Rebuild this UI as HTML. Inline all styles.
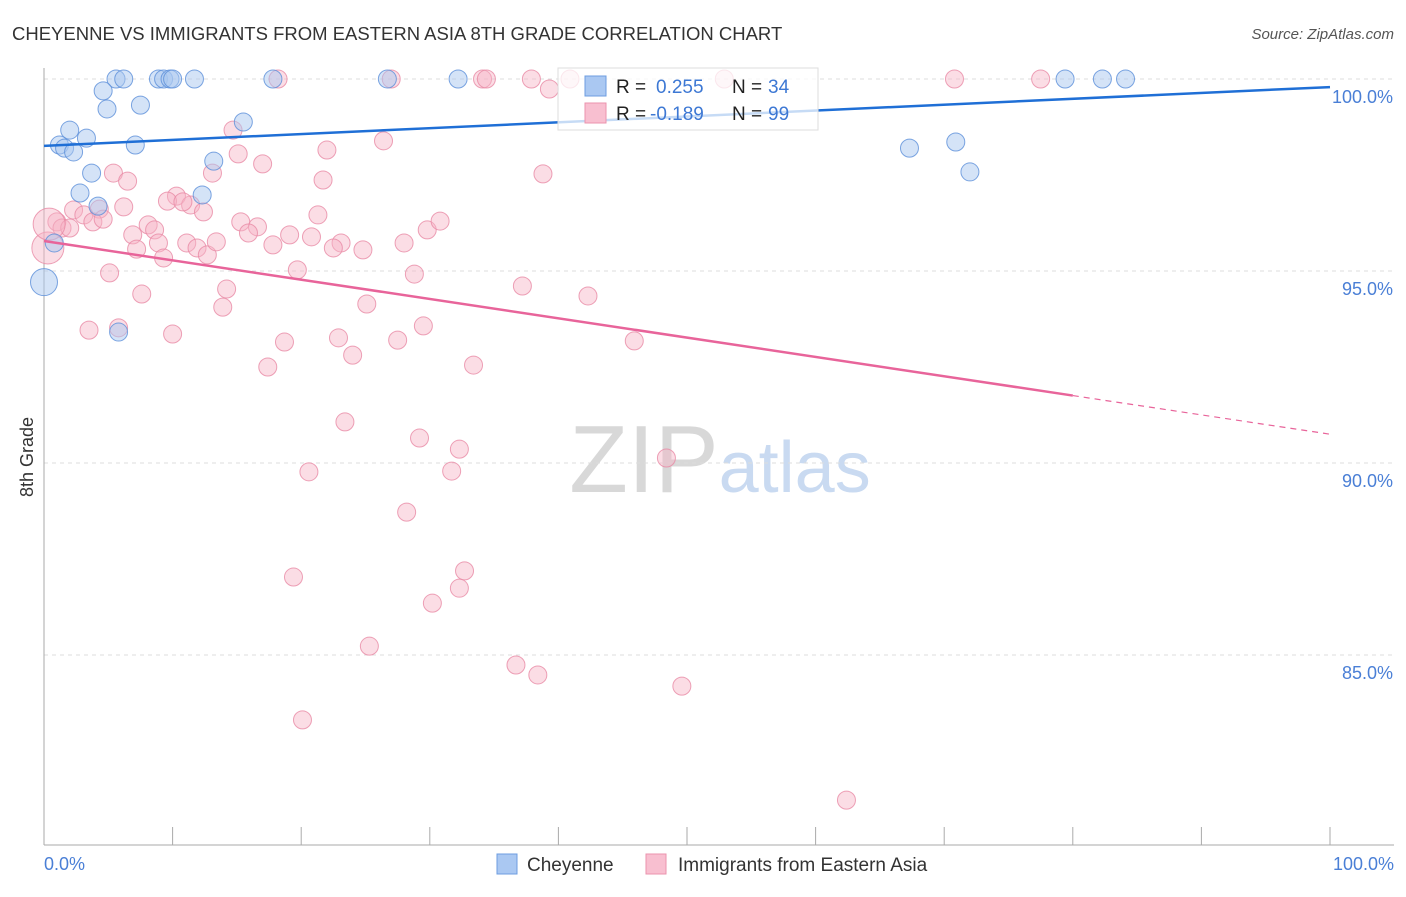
<!DOCTYPE html>
<html><head><meta charset="utf-8"><style>
body{margin:0;background:#fff;font-family:"Liberation Sans",sans-serif;}
svg text{font-family:"Liberation Sans",sans-serif;}
</style></head><body>
<svg id="chart" width="1406" height="892" xmlns="http://www.w3.org/2000/svg">
<text x="12" y="40" font-size="18.5" fill="#333">CHEYENNE VS IMMIGRANTS FROM EASTERN ASIA 8TH GRADE CORRELATION CHART</text>
<text x="1394" y="39" font-size="15" fill="#555" font-style="italic" text-anchor="end">Source: ZipAtlas.com</text>
<text x="33" y="457" font-size="18" fill="#333" text-anchor="middle" transform="rotate(-90 33 457)">8th Grade</text>
<text x="720" y="492" font-size="96" fill="#ddd" text-anchor="middle" font-family="Liberation Serif"><tspan fill="#d8d8d8">ZIP</tspan><tspan fill="#c9daf1" font-family="Liberation Sans" font-size="72">atlas</tspan></text>
<g id="grid"></g><g id="axes"></g><g id="marks"></g><g id="lines"></g>
<g>
<rect x="558" y="68" width="260" height="62" fill="#fff" fill-opacity="0.75" stroke="#ddd"/>
<rect x="585" y="76" width="21" height="20" fill="#aac8f2" stroke="#6d9de0"/>
<rect x="585" y="103" width="21" height="20" fill="#f8bfd0" stroke="#eb93ae"/>
<text x="616" y="93" font-size="19" fill="#222">R = </text><text x="656" y="93" font-size="19" fill="#3d78d4">0.255</text>
<text x="732" y="93" font-size="19" fill="#222">N = </text><text x="768" y="93" font-size="19" fill="#3d78d4">34</text>
<text x="616" y="120" font-size="19" fill="#222">R = </text><text x="650" y="120" font-size="19" fill="#3d78d4">-0.189</text>
<text x="732" y="120" font-size="19" fill="#222">N = </text><text x="768" y="120" font-size="19" fill="#3d78d4">99</text>
</g>
<g>
<rect x="497" y="854" width="20" height="20" fill="#aac8f2" stroke="#6d9de0"/>
<text x="527" y="871" font-size="19" fill="#333">Cheyenne</text>
<rect x="646" y="854" width="20" height="20" fill="#f8bfd0" stroke="#eb93ae"/>
<text x="678" y="871" font-size="19" fill="#333">Immigrants from Eastern Asia</text>
</g>
</svg>
<script>
const yTicks=[100,95,90,85];
const yTickLabels=["100.0%","95.0%","90.0%","85.0%"];
const blueX=[5.6,6.2,8.9,9.3,9.8,10.0,11.7,17.8,26.7,32.2,79.4,82.3,84.1,4.6,4.9,7.5,2.0,3.3,1.2,1.6,2.3,7.1,15.5,13.2,3.7,2.8,12.3,4.2,0.8,0,5.8,67.3,70.9,72.0];
const blueY=[100,100,100,100,100,100,100,100,100,100,100,100,100,99.69,99.22,99.32,98.67,98.46,98.28,98.20,98.10,98.28,98.88,97.86,97.55,97.03,96.98,96.69,95.73,94.71,93.41,98.20,98.36,97.58];
const blueSize=[1,1,1,1,1,1,1,1,1,1,1,1,1,1,1,1,1,1,1,1,1,1,1,1,1,1,1,1,1,1.5,1,1,1,1];
const pinkX=[18.2,27.0,34.1,34.4,37.9,40.9,52.9,70.8,77.5,39.3,14.7,15.1,17.0,22.0,26.4,38.8,5.4,6.5,13.1,21.7,10.3,11.4,9.6,10.8,12.4,6.2,4.3,2.3,3.1,3.8,4.6,1.0,1.4,2.0,0.3,0.4,15.3,16.6,15.9,8.1,8.6,6.9,8.9,11.1,11.9,12.7,13.4,17.8,19.1,20.8,21.3,23.1,22.5,24.8,28.0,29.8,30.8,7.2,9.3,5.1,19.7,28.8,37.2,42.3,7.6,14.2,13.9,25.1,3.5,5.8,10.0,18.7,22.9,24.0,27.5,29.5,45.9,17.4,33.4,23.4,29.2,32.3,31.7,20.6,48.4,28.2,19.4,32.7,32.3,30.2,25.3,36.7,38.4,49.6,20.1,62.4];
const pinkY=[100,100,100,100,100,100,100,100,100,99.74,98.67,98.05,97.79,98.15,98.39,97.53,97.55,97.34,97.55,97.37,96.95,96.72,96.82,96.80,96.54,96.67,96.61,96.59,96.46,96.28,96.35,96.28,96.12,96.12,95.60,96.22,96.28,96.15,95.99,96.20,96.07,95.94,95.73,95.73,95.60,95.42,95.76,95.68,95.94,95.89,96.46,95.73,95.60,95.55,95.73,96.07,96.30,95.57,95.34,94.95,95.03,94.92,94.61,94.35,94.40,94.53,94.06,94.14,93.46,93.52,93.36,93.15,93.26,92.81,93.20,93.57,93.18,92.50,92.55,91.07,90.65,90.36,89.79,89.77,90.13,88.72,87.03,87.19,86.74,86.35,85.23,84.74,84.48,84.19,83.31,81.22];
const blueTrend=[98.26,99.79];
const pinkTrend=[95.78,90.75];
const pinkSolidEnd=80;
const NS="http://www.w3.org/2000/svg";
const X0=44,X1=1330,Y100=79,PXPCT=38.4;
function sx(v){return X0+(X1-X0)*v/100;}
function sy(v){return Y100+(100-v)*PXPCT;}
function mk(tag,attrs,parent){const e=document.createElementNS(NS,tag);for(const k in attrs)e.setAttribute(k,attrs[k]);parent.appendChild(e);return e;}
const grid=document.getElementById('grid'),axes=document.getElementById('axes'),marks=document.getElementById('marks'),lines=document.getElementById('lines');
yTicks.forEach((t,i)=>{
 const l=mk('line',{x1:X0,x2:1394,y1:sy(t),y2:sy(t),stroke:'#ddd','stroke-dasharray':'4,4'},grid);
 
 
 const tx=mk('text',{x:1393,y:sy(t)+24,'font-size':18,fill:'#4a7fd6','text-anchor':'end'},axes);
 tx.textContent=yTickLabels[i];
 
 
});
const ya=mk('line',{x1:X0,x2:X0,y1:68,y2:845,stroke:'#aaa'},axes);


const xa=mk('line',{x1:X0,x2:1394,y1:845,y2:845,stroke:'#aaa'},axes);


for(let i=0;i<=10;i++){const t=mk('line',{x1:sx(i*10),x2:sx(i*10),y1:827,y2:845,stroke:'#aaa'},axes);
 
 }
const xl=mk('text',{x:44,y:870,'font-size':18,fill:'#4a7fd6'},axes);xl.textContent='0.0%';


const xr=mk('text',{x:1394,y:870,'font-size':18,fill:'#4a7fd6','text-anchor':'end'},axes);xr.textContent='100.0%';


pinkX.forEach((x,i)=>{const c=mk('circle',{cx:sx(x),cy:sy(pinkY[i]),r:(i==34||i==35)?16:9,fill:'#f6b3c6','fill-opacity':0.45,stroke:'#e88aa5','stroke-opacity':0.8},marks);
 
 });
blueX.forEach((x,i)=>{const c=mk('circle',{cx:sx(x),cy:sy(blueY[i]),r:9*blueSize[i],fill:'#a9c8f0','fill-opacity':0.5,stroke:'#5b8fd9','stroke-opacity':0.8},marks);
 
 });
const bl=mk('line',{x1:sx(0),y1:sy(blueTrend[0]),x2:sx(100),y2:sy(blueTrend[1]),stroke:'#1f6fd6','stroke-width':2.5},lines);


const pm=pinkTrend[0]+(pinkTrend[1]-pinkTrend[0])*pinkSolidEnd/100;
const pl=mk('line',{x1:sx(0),y1:sy(pinkTrend[0]),x2:sx(pinkSolidEnd),y2:sy(pm),stroke:'#e8649a','stroke-width':2.5},lines);


const pd=mk('line',{x1:sx(pinkSolidEnd),y1:sy(pm),x2:sx(100),y2:sy(pinkTrend[1]),stroke:'#e8649a','stroke-width':1.2,'stroke-dasharray':'6,5'},lines);


</script>
</body></html>
